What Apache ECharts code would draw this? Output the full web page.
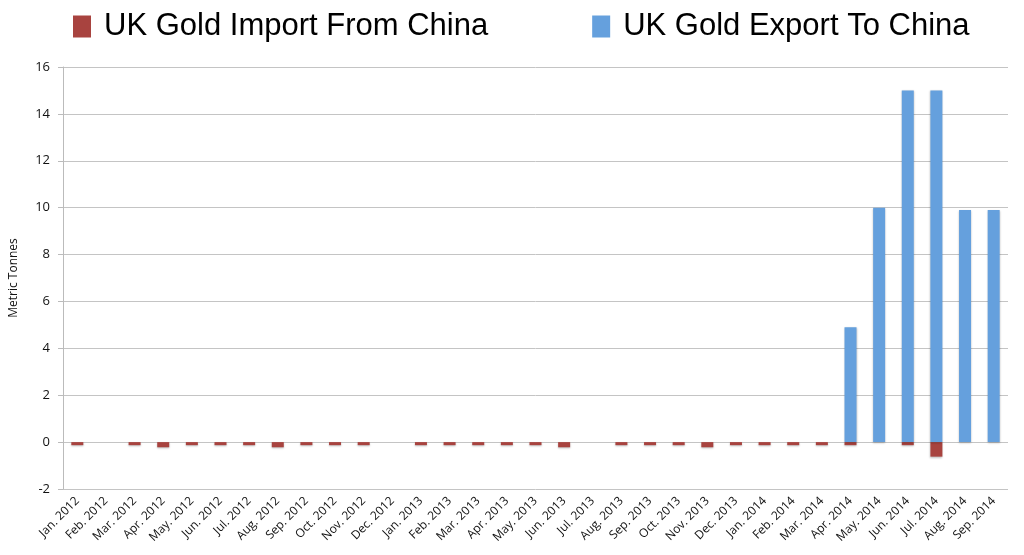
<!DOCTYPE html>
<html><head><meta charset="utf-8">
<script src="https://cdn.jsdelivr.net/npm/echarts@6/dist/echarts.min.js"></script>
<style>html,body{margin:0;padding:0;background:#fff}#c{width:1024px;height:555px}</style>
</head><body><div id="c"></div>
<script>
const categories = ["Jan. 2012","Feb. 2012","Mar. 2012","Apr. 2012","May. 2012","Jun. 2012","Jul. 2012","Aug. 2012","Sep. 2012","Oct. 2012","Nov. 2012","Dec. 2012","Jan. 2013","Feb. 2013","Mar. 2013","Apr. 2013","May. 2013","Jun. 2013","Jul. 2013","Aug. 2013","Sep. 2013","Oct. 2013","Nov. 2013","Dec. 2013","Jan. 2014","Feb. 2014","Mar. 2014","Apr. 2014","May. 2014","Jun. 2014","Jul. 2014","Aug. 2014","Sep. 2014"];
const importFromChina = [-0.13,null,-0.13,-0.22,-0.13,-0.13,-0.13,-0.22,-0.13,-0.13,-0.13,null,-0.13,-0.13,-0.13,-0.13,-0.13,-0.22,null,-0.13,-0.13,-0.13,-0.22,-0.13,-0.13,-0.13,-0.13,-0.13,null,-0.13,-0.62,null,null];
const exportToChina = [null,null,null,null,null,null,null,null,null,null,null,null,null,null,null,null,null,null,null,null,null,null,null,null,null,null,null,4.9,10,15,15,9.9,9.9];
const yTicks = {min:-2,max:16,interval:2};

const chart = echarts.init(document.getElementById('c'));
chart.setOption({
  animation:false,
  legend:{
    top:6,left:68,itemWidth:18,itemHeight:22,itemGap:104,
    icon:'rect',
    textStyle:{fontSize:31,color:'#000',fontFamily:'"Liberation Sans Narrow","Liberation Sans",sans-serif',padding:[0,0,0,8]},
    data:['UK Gold Import From China','UK Gold Export To China']
  },
  grid:{left:60,right:16,top:67,bottom:66},
  xAxis:{
    type:'category',data:categories,
    axisLine:{show:false},axisTick:{show:false},
    axisLabel:{rotate:45,fontSize:12,color:'#111',interval:0,margin:10,fontFamily:'"Open Sans",sans-serif'}
  },
  yAxis:{
    type:'value',min:yTicks.min,max:yTicks.max,interval:yTicks.interval,
    name:'Metric Tonnes',nameLocation:'middle',nameGap:43,
    nameTextStyle:{fontSize:12,color:'#111',fontFamily:'"Open Sans",sans-serif'},
    axisLine:{show:true,lineStyle:{color:'#bbb'}},
    axisTick:{show:true,length:5,lineStyle:{color:'#bbb'}},
    axisLabel:{fontSize:13,color:'#111',margin:13,fontFamily:'"Open Sans",sans-serif'},
    splitLine:{lineStyle:{color:'#c4c4c4'}}
  },
  series:[
    {name:'UK Gold Import From China',type:'bar',stack:'a',barWidth:12,data:importFromChina,
     itemStyle:{color:'#a8433f',shadowColor:'rgba(0,0,0,0.25)',shadowBlur:2,shadowOffsetY:1}},
    {name:'UK Gold Export To China',type:'bar',stack:'a',barWidth:12,data:exportToChina,
     itemStyle:{color:'#65a0dd',shadowColor:'rgba(0,0,0,0.25)',shadowBlur:2,shadowOffsetY:1}}
  ]
});
</script></body></html>
